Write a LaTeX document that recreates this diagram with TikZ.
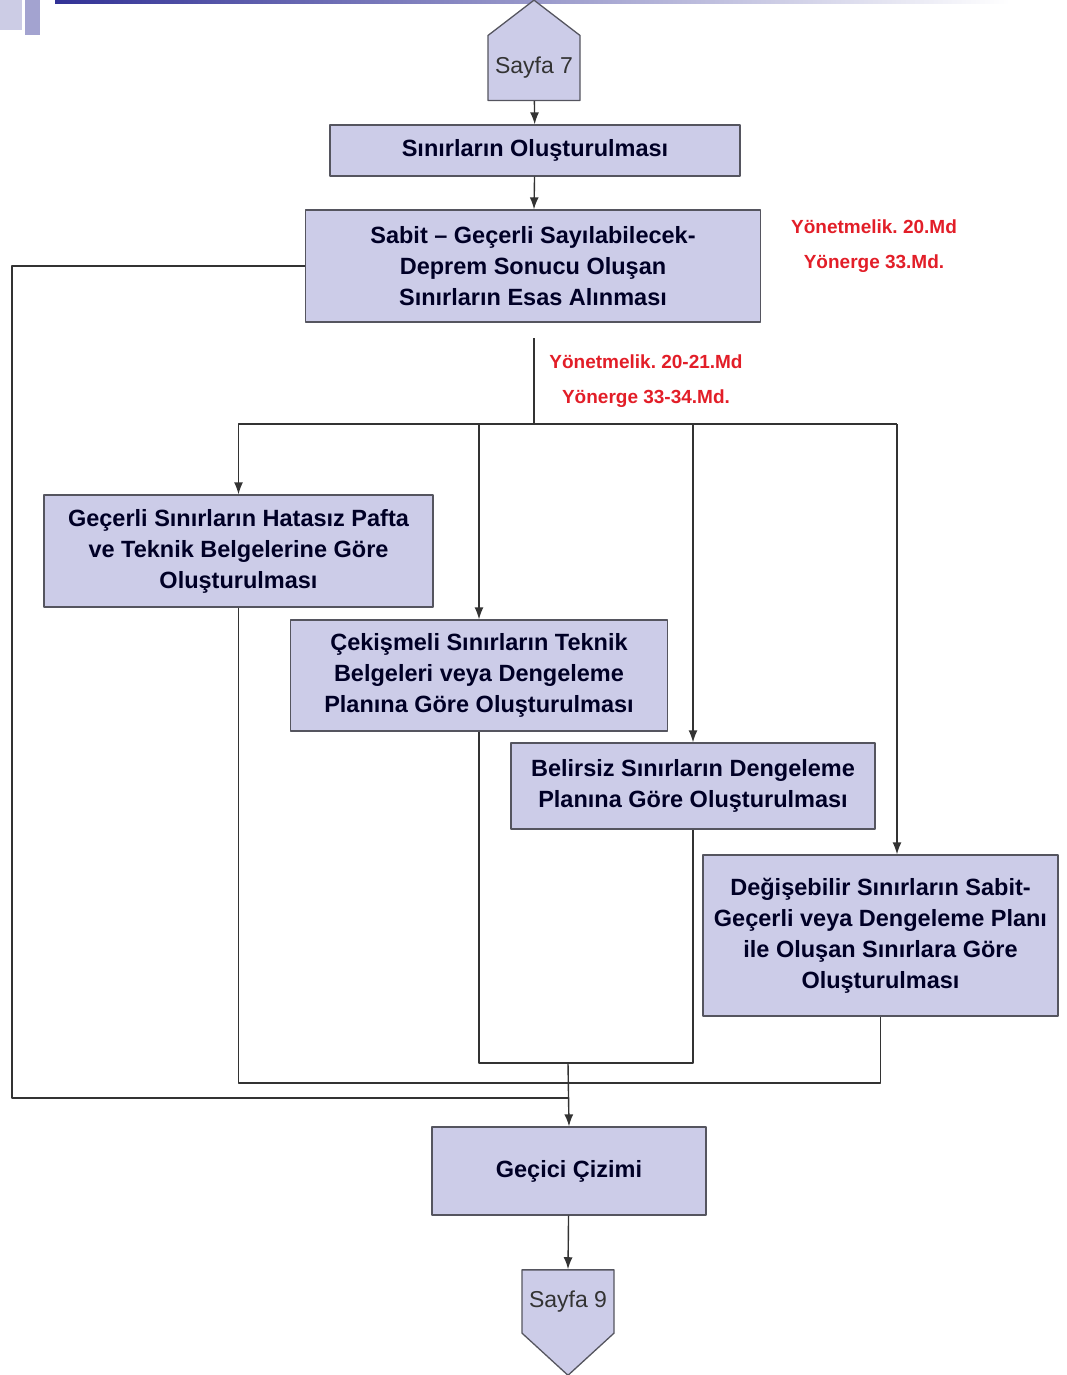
\documentclass[tikz,border=0pt]{standalone}
\usepackage[x11names, svgnames, rgb]{xcolor}
\usepackage{fontspec}
\setmainfont{Liberation Sans}
\usepackage{tikz}
\usetikzlibrary{arrows.meta, calc, positioning, shapes, shapes.symbols}
\definecolor{boxlilac}{RGB}{204,204,232}
\definecolor{boxedge}{RGB}{85,85,95}
\definecolor{reftext}{RGB}{226,30,40}
\definecolor{barblue}{RGB}{50,50,150}
\frenchspacing

\begin{document}
\begin{tikzpicture}[>={Latex[length=12pt, width=9pt]}, x=1pt, y=-1pt, line join=bevel,
    proc/.style={draw=boxedge, fill=boxlilac, line width=1.3pt, inner sep=0pt,
        align=center, text=black!85!blue,
        font=\bfseries\fontsize{23.5}{31}\selectfont},
    offpage/.style={draw=boxedge, fill=boxlilac, line width=1.3pt, shape=signal,
        signal from=nowhere, inner sep=0pt,
        minimum width=92pt, text=black!80, font=\fontsize{23}{27}\selectfont},
    reflabel/.style={text=reftext, align=center, font=\bfseries\fontsize{19}{35}\selectfont},
    flow/.style={draw=black!80, line width=1.4pt}]
    \useasboundingbox (0,0) rectangle (1067,1375);
    % slide header
    \shade[left color=barblue, right color=white] (55,0) rectangle (1010,4);
    \fill[barblue!25] (0,0) rectangle (22,30);
    \fill[barblue!45] (25,0) rectangle (40,35);

    \node[offpage, signal to=north, signal pointer angle=105, minimum height=95pt] (p7) at (534,68) {Sayfa 7};
    \node[proc, minimum width=410pt, minimum height=51pt] (b1) at (535,150.5) {Sınırların Oluşturulması};
    \node[proc, minimum width=455pt, minimum height=112pt] (b2) at (533,266)
        {Sabit – Geçerli Sayılabilecek-\\Deprem Sonucu Oluşan\\Sınırların Esas Alınması};
    \node[reflabel] (ref1) at (874,246) {Yönetmelik. 20.Md\\Yönerge 33.Md.};
    \node[reflabel] (ref2) at (646,381) {Yönetmelik. 20-21.Md\\Yönerge 33-34.Md.};

    \node[proc, minimum width=389pt, minimum height=112pt] (b3) at (238.5,551)
        {Geçerli Sınırların Hatasız Pafta\\ve Teknik Belgelerine Göre\\Oluşturulması};
    \node[proc, minimum width=377pt, minimum height=111pt] (b4) at (479,675.5)
        {Çekişmeli Sınırların Teknik\\Belgeleri veya Dengeleme\\Planına Göre Oluşturulması};
    \node[proc, minimum width=364pt, minimum height=86pt] (b5) at (693,786)
        {Belirsiz Sınırların Dengeleme\\Planına Göre Oluşturulması};
    \node[proc, minimum width=355pt, minimum height=161pt] (b6) at (880.5,935.5)
        {Değişebilir Sınırların Sabit-\\Geçerli veya Dengeleme Planı\\ile Oluşan Sınırlara Göre\\Oluşturulması};
    \node[proc, minimum width=274pt, minimum height=88pt] (b7) at (569,1171) {Geçici Çizimi};
    \node[offpage, signal to=south, signal pointer angle=95, minimum height=99pt] (p9) at (568,1301.5) {Sayfa 9};

    \coordinate (split) at (534,338);
    \coordinate (bus) at (534,424);
    \coordinate (drop6) at (897,424);
    \coordinate (bus1) at (568,1063);
    \coordinate (bus2) at (568,1083);
    \coordinate (bus0) at (568,1098);
    \coordinate (edge) at (12,1098);

    \draw[flow, ->] (p7) -- (b1);
    \draw[flow, ->] (b1) -- (b2);
    \draw[flow] (split) -- (bus) -- (drop6);
    \draw[flow, ->] (bus) -| (b3.north);
    \draw[flow, ->] (bus) -| (b4.north);
    \draw[flow, ->] (bus) -| (b5.north);
    \draw[flow, ->] (drop6) -- (drop6 |- b6.north);
    % returns into the merge line
    \draw[flow] (b2.west) -| (edge) -- (bus0);
    \draw[flow] (b3.south) |- (bus2) -| (b6.south);
    \draw[flow] (b4.south) |- (bus1) -| (b5.south);
    \draw[flow, ->] (bus1) -- (b7.north);
    \draw[flow, ->] (b7) -- (p9.north);
\end{tikzpicture}
\end{document}
